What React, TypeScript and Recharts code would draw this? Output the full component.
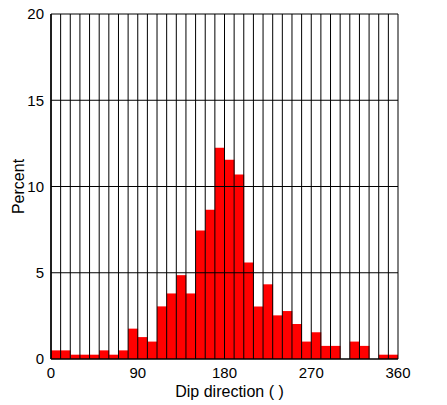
import React from 'react';
import { ComposedChart, Bar, XAxis, YAxis, ReferenceLine, Label } from 'recharts';

// dip direction bins, 10 degrees wide (start of each bin)
const binStarts = [
    0, 10, 20, 30, 40, 50, 60, 70, 80, 90, 100, 110, 120, 130, 140, 150, 160, 170,
    180, 190, 200, 210, 220, 230, 240, 250, 260, 270, 280, 290, 300, 310, 320, 330, 340, 350,
];

// percent of measurements in each bin
const percent = [
    0.5, 0.5, 0.25, 0.25, 0.25, 0.5, 0.25, 0.5, 1.76, 1.27, 1.01, 3.05, 3.8, 4.86, 3.8, 7.45, 8.65, 12.25,
    11.55, 10.7, 5.6, 3.05, 4.33, 2.53, 2.78, 2.03, 1.01, 1.55, 0.76, 0.76, 0, 1.01, 0.76, 0, 0.25, 0.25,
];

const xTicks = [0, 90, 180, 270, 360];
const yTicks = [0, 5, 10, 15, 20];
const gridX = [...binStarts, 360];
const gridY = [5, 10, 15, 20];

// bars sit at the middle of each bin on the numeric axis
const data = binStarts.map((start, i) => ({ mid: start + 5, value: percent[i] }));

const font = '"Liberation Sans", Arial, Helvetica, sans-serif';

export default function App() {
    return (
        <div style={{ position: 'absolute', left: 0, top: 0, background: '#fff' }}>
            <ComposedChart
                width={447}
                height={405}
                data={data}
                barCategoryGap={0}
                barGap={0}
                margin={{ top: 14, right: 49, left: 0, bottom: 0 }}
            >
                <XAxis
                    dataKey="mid"
                    type="number"
                    domain={[0, 360]}
                    ticks={xTicks}
                    allowDataOverflow
                    axisLine={false}
                    tickLine={false}
                    tickSize={0}
                    tickMargin={8}
                    height={46}
                    interval={0}
                    tick={{ fill: '#000', fontSize: 15, fontFamily: font }}
                >
                    <Label
                        value="Dip direction ( )"
                        position="insideBottom"
                        offset={8}
                        dx={5}
                        style={{ fill: '#000', fontSize: 16, fontFamily: font }}
                    />
                </XAxis>
                <YAxis
                    domain={[0, 20]}
                    ticks={yTicks}
                    allowDataOverflow
                    axisLine={false}
                    tickLine={false}
                    tickSize={0}
                    tickMargin={7}
                    width={51}
                    interval={0}
                    tick={{ fill: '#000', fontSize: 15, fontFamily: font }}
                >
                    <Label
                        value="Percent"
                        angle={-90}
                        position="insideLeft"
                        offset={18}
                        style={{ textAnchor: 'middle', fill: '#000', fontSize: 16, fontFamily: font }}
                    />
                </YAxis>
                <Bar dataKey="value" fill="#ff0000" isAnimationActive={false} />
                {gridX.map((v) => (
                    <ReferenceLine key={`x${v}`} x={v} stroke="#000" strokeWidth={1} />
                ))}
                {gridY.map((v) => (
                    <ReferenceLine key={`y${v}`} y={v} stroke="#000" strokeWidth={1} />
                ))}
                <ReferenceLine y={0} stroke="#000" strokeWidth={1.5} />
                <ReferenceLine x={0} stroke="#000" strokeWidth={1.5} />
            </ComposedChart>
        </div>
    );
}
